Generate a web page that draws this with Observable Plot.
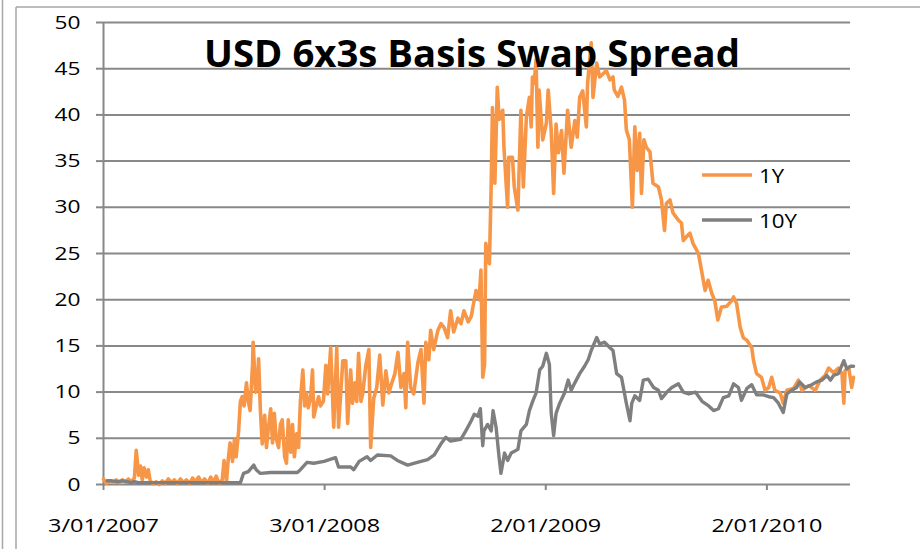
<!DOCTYPE html>
<html><head><meta charset="utf-8">
<script src="https://cdn.jsdelivr.net/npm/d3@7"></script>
<script src="https://cdn.jsdelivr.net/npm/@observablehq/plot@0.6"></script>
<style>body{margin:0;background:#fff} #chart{width:920px;height:549px}</style>
</head><body><div id="chart"></div><script>
const title = "USD 6x3s Basis Swap Spread";
const seriesNames = ["1Y", "10Y"];
const seriesColors = ["#F79646", "#7F7F7F"];
const yTicks = [0, 5, 10, 15, 20, 25, 30, 35, 40, 45, 50];
const xTickDates = ["2007-01-03", "2008-01-03", "2009-01-02", "2010-01-02"];
const xTickLabels = ["3/01/2007", "3/01/2008", "2/01/2009", "2/01/2010"];
const xDomain = ["2007-01-03", "2010-05-20"];

const oneYDates = [
"2007-01-03","2007-01-08","2007-01-14","2007-01-19","2007-01-24","2007-01-29","2007-02-03","2007-02-08","2007-02-13","2007-02-18",
"2007-02-23","2007-02-26","2007-03-02","2007-03-05","2007-03-08","2007-03-11","2007-03-15","2007-03-18","2007-03-21","2007-03-26",
"2007-03-31","2007-04-05","2007-04-10","2007-04-15","2007-04-20","2007-04-25","2007-04-30","2007-05-05","2007-05-10","2007-05-15",
"2007-05-20","2007-05-25","2007-05-30","2007-06-04","2007-06-09","2007-06-14","2007-06-19","2007-06-24","2007-06-29","2007-07-04",
"2007-07-08","2007-07-13","2007-07-18","2007-07-21","2007-07-25","2007-07-28","2007-07-31","2007-08-04","2007-08-07","2007-08-10",
"2007-08-14","2007-08-17","2007-08-20","2007-08-23","2007-08-27","2007-08-30","2007-09-02","2007-09-06","2007-09-07","2007-09-11",
"2007-09-14","2007-09-16","2007-09-19","2007-09-22","2007-09-26","2007-09-29","2007-10-02","2007-10-06","2007-10-09","2007-10-12",
"2007-10-15","2007-10-19","2007-10-22","2007-10-25","2007-10-29","2007-11-01","2007-11-04","2007-11-08","2007-11-11","2007-11-14",
"2007-11-18","2007-11-21","2007-11-24","2007-11-28","2007-12-01","2007-12-04","2007-12-07","2007-12-11","2007-12-14","2007-12-16",
"2007-12-21","2007-12-24","2007-12-27","2008-01-01","2008-01-05","2008-01-08","2008-01-13","2008-01-18","2008-01-23","2008-01-26",
"2008-02-02","2008-02-07","2008-02-10","2008-02-15","2008-02-18","2008-02-22","2008-02-25","2008-02-28","2008-03-03","2008-03-06",
"2008-03-11","2008-03-16","2008-03-19","2008-03-24","2008-03-29","2008-04-03","2008-04-08","2008-04-13","2008-04-18","2008-04-23",
"2008-04-28","2008-05-03","2008-05-08","2008-05-13","2008-05-16","2008-05-19","2008-05-24","2008-05-29","2008-06-05","2008-06-10",
"2008-06-15","2008-06-18","2008-06-23","2008-06-26","2008-07-01","2008-07-08","2008-07-13","2008-07-18","2008-07-24","2008-07-29",
"2008-08-03","2008-08-10","2008-08-15","2008-08-20","2008-08-27","2008-09-01","2008-09-06","2008-09-09","2008-09-14","2008-09-17",
"2008-09-20","2008-09-23","2008-09-25","2008-09-29","2008-10-01","2008-10-04","2008-10-06","2008-10-10","2008-10-14","2008-10-17",
"2008-10-23","2008-10-25","2008-10-31","2008-11-02","2008-11-08","2008-11-11","2008-11-17","2008-11-22","2008-11-26","2008-12-01",
"2008-12-06","2008-12-09","2008-12-11","2008-12-14","2008-12-17","2008-12-20","2008-12-22","2008-12-28","2009-01-03","2009-01-06",
"2009-01-11","2009-01-15","2009-01-19","2009-01-23","2009-01-28","2009-02-01","2009-02-07","2009-02-13","2009-02-19","2009-02-23",
"2009-02-27","2009-03-04","2009-03-10","2009-03-12","2009-03-18","2009-03-21","2009-03-27","2009-04-01","2009-04-06","2009-04-12",
"2009-04-18","2009-04-23","2009-04-25","2009-05-01","2009-05-07","2009-05-12","2009-05-15","2009-05-20","2009-05-25","2009-05-29",
"2009-06-02","2009-06-06","2009-06-09","2009-06-13","2009-06-17","2009-06-23","2009-06-28","2009-07-07","2009-07-12","2009-07-17",
"2009-07-20","2009-07-26","2009-07-31","2009-08-09","2009-08-14","2009-08-17","2009-08-22","2009-08-28","2009-09-02","2009-09-11",
"2009-09-16","2009-09-22","2009-09-27","2009-10-03","2009-10-08","2009-10-13","2009-10-19","2009-10-28","2009-11-05","2009-11-08",
"2009-11-13","2009-11-19","2009-11-24","2009-11-30","2009-12-08","2009-12-11","2009-12-16","2009-12-24","2009-12-30","2010-01-05",
"2010-01-10","2010-01-15","2010-01-24","2010-01-29","2010-02-04","2010-02-15","2010-02-23","2010-03-01","2010-03-12","2010-03-23",
"2010-03-31","2010-04-08","2010-04-14","2010-04-22","2010-04-30","2010-05-06","2010-05-09","2010-05-11","2010-05-17","2010-05-22",
"2010-05-25"
];
const oneYValues = [
0.6,0.1,0.4,0.2,0.5,0.2,0.5,0.3,0.6,0.3,
0.7,3.7,1.0,2.0,0.5,1.8,0.8,1.6,0.4,0.1,
0.3,0.0,0.4,0.1,0.6,0.2,0.5,0.1,0.6,0.2,
0.5,0.1,0.7,0.3,0.8,0.2,0.6,0.1,0.8,0.2,
0.9,0.1,0.5,2.6,0.3,2.8,4.5,2.5,4.8,3.0,
5.8,9.0,9.5,8.5,11.0,9.0,8.0,13.0,15.4,10.0,
11.0,13.6,8.0,4.4,7.5,4.0,6.0,8.2,4.5,7.7,
5.0,4.0,6.5,7.0,3.0,2.3,7.0,3.5,6.5,3.0,
5.5,4.0,9.0,12.4,8.5,9.9,8.3,9.5,12.4,7.3,
8.8,9.5,8.5,9.0,12.9,9.8,14.8,6.2,14.8,6.2,
13.4,13.4,6.6,12.4,8.8,11.0,9.0,14.2,9.0,9.9,
12.9,14.6,4.0,9.3,10.5,14.0,8.6,12.3,9.9,11.0,
12.0,14.3,10.5,12.0,8.3,15.4,10.5,9.8,13.2,14.6,
8.8,15.4,13.5,16.7,14.6,16.7,17.4,17.0,15.9,18.8,
16.5,18.0,17.4,18.8,17.6,18.2,20.0,21.0,20.0,23.2,
11.6,13.0,26.1,24.5,23.9,32.6,40.8,32.6,43.0,39.5,
40.5,36.5,30.0,35.4,35.4,32.2,29.7,40.5,32.2,39.8,
41.9,38.7,44.1,43.4,46.0,36.5,42.7,37.3,39.1,42.7,
38.3,31.5,39.0,35.9,38.3,33.7,40.5,36.5,39.4,37.6,
41.9,42.6,38.7,43.4,47.8,41.9,45.6,44.1,44.4,44.8,
43.8,44.1,42.7,42.0,43.0,41.6,38.4,37.3,30.0,38.7,
34.0,38.0,31.5,37.3,36.5,36.0,32.6,32.2,30.8,27.5,
30.4,30.8,29.4,28.6,28.3,26.4,26.8,27.2,26.1,25.0,
23.2,21.0,22.1,20.7,19.9,17.8,19.2,19.3,19.9,20.3,
19.6,17.0,15.9,15.6,14.8,13.4,12.0,11.6,10.2,10.5,
11.6,10.2,9.9,8.8,10.2,10.4,11.3,10.2,10.7,10.2,
11.3,11.8,12.6,12.1,12.6,12.0,8.8,12.3,12.7,10.5,
11.6
];

const tenYDates = [
"2007-01-09","2007-01-17","2007-01-26","2007-02-03","2007-02-11","2007-02-18","2007-02-23","2007-03-02","2007-03-21","2007-05-10",
"2007-06-29","2007-08-17","2007-08-22","2007-08-30","2007-09-08","2007-09-12","2007-09-19","2007-10-06","2007-10-28","2007-11-19",
"2007-11-24","2007-12-05","2007-12-16","2008-01-02","2008-01-21","2008-01-26","2008-02-15","2008-02-20","2008-02-29","2008-03-13",
"2008-03-19","2008-03-30","2008-04-21","2008-05-02","2008-05-19","2008-06-04","2008-06-21","2008-07-02","2008-07-13","2008-07-21",
"2008-07-29","2008-08-07","2008-08-15","2008-08-23","2008-09-01","2008-09-06","2008-09-12","2008-09-16","2008-09-20","2008-09-22",
"2008-09-28","2008-10-04","2008-10-07","2008-10-12","2008-10-17","2008-10-20","2008-10-26","2008-10-31","2008-11-06","2008-11-17",
"2008-11-22","2008-12-01","2008-12-06","2008-12-12","2008-12-17","2008-12-23","2008-12-28","2009-01-03","2009-01-08","2009-01-11",
"2009-01-15","2009-01-19","2009-01-25","2009-02-02","2009-02-08","2009-02-13","2009-02-19","2009-02-27","2009-03-07","2009-03-13",
"2009-03-18","2009-03-27","2009-04-01","2009-04-09","2009-04-18","2009-04-23","2009-04-29","2009-05-07","2009-05-15","2009-05-21",
"2009-05-24","2009-05-29","2009-06-06","2009-06-12","2009-06-20","2009-06-29","2009-07-07","2009-07-12","2009-07-21","2009-07-29",
"2009-08-09","2009-08-17","2009-08-26","2009-09-06","2009-09-17","2009-09-28","2009-10-06","2009-10-14","2009-10-22","2009-10-31",
"2009-11-08","2009-11-16","2009-11-21","2009-11-30","2009-12-08","2009-12-16","2009-12-27","2010-01-05","2010-01-13","2010-01-21",
"2010-01-29","2010-02-04","2010-02-12","2010-02-20","2010-02-25","2010-03-06","2010-03-14","2010-03-25","2010-04-03","2010-04-11",
"2010-04-17","2010-04-22","2010-04-30","2010-05-09","2010-05-14","2010-05-20","2010-05-25"
];
const tenYValues = [
0.4,0.4,0.3,0.4,0.3,0.2,0.3,0.2,0.2,0.2,
0.2,0.2,1.2,1.4,2.1,1.6,1.2,1.3,1.3,1.3,
1.6,2.4,2.3,2.5,2.9,1.9,1.9,1.6,2.5,3.0,
2.6,3.2,3.1,2.6,2.1,2.4,2.7,3.2,4.4,5.1,
4.7,4.8,4.9,5.8,6.9,7.6,7.4,8.2,4.2,5.8,
6.5,5.8,8.0,6.2,2.9,1.2,3.4,2.6,3.4,3.8,
5.8,6.5,8.0,9.1,9.9,12.4,12.8,14.2,13.0,7.7,
5.3,7.7,8.8,9.9,11.3,10.2,11.0,12.0,12.8,13.5,
14.5,15.9,15.2,15.4,14.8,14.5,12.0,11.6,8.8,6.9,
8.8,9.6,9.1,11.3,11.4,10.5,10.2,9.3,10.0,10.5,
10.9,10.0,9.8,10.0,9.0,8.5,8.0,8.2,9.4,9.6,
10.9,10.5,9.1,10.4,10.8,9.7,9.7,9.5,9.4,8.8,
7.8,9.8,10.2,10.5,11.1,10.5,10.7,11.1,11.3,11.8,
11.3,11.8,12.0,13.4,12.5,12.8,12.8
];

const parse = d3.utcParse("%Y-%m-%d");
const oneY = oneYDates.map((d, i) => ({date: parse(d), value: oneYValues[i]}));
const tenY = tenYDates.map((d, i) => ({date: parse(d), value: tenYValues[i]}));
const xTicks = xTickDates.map(parse);
const labelMap = new Map(xTicks.map((d, i) => [+d, xTickLabels[i]]));
const gridColor = "#888888";

const chart = Plot.plot({
  width: 920, height: 549,
  marginLeft: 103, marginRight: 70, marginTop: 22, marginBottom: 65,
  style: {fontFamily: "'Open Sans', sans-serif", fontSize: "19px", color: "#000", background: "#fff", overflow: "visible"},
  x: {type: "utc", domain: xDomain.map(parse)},
  y: {domain: [0, 50]},
  marks: [
    Plot.gridY(yTicks, {stroke: gridColor, strokeOpacity: 1, strokeWidth: 2}),
    Plot.axisY(yTicks, {tickSize: 7, tickPadding: 16, stroke: gridColor, strokeWidth: 2, label: null, tickFormat: d => String(d)}),
    Plot.axisX(xTicks, {tickSize: 6, tickPadding: 28, stroke: gridColor, strokeWidth: 2, label: null, tickFormat: d => labelMap.get(+d)}),
    Plot.ruleX([xTicks[0]], {stroke: gridColor, strokeWidth: 2}),
    Plot.lineY(oneY, {x: "date", y: "value", stroke: seriesColors[0], strokeWidth: 3.6, strokeLinejoin: "round"}),
    Plot.lineY(tenY, {x: "date", y: "value", stroke: seriesColors[1], strokeWidth: 3.4, strokeLinejoin: "round"})
  ]
});
document.getElementById("chart").appendChild(chart);

const svg = d3.select(chart);
// stretch tick labels to the reference's wide lettering
svg.selectAll("text").each(function() {
  const t = this.textContent;
  if (xTickLabels.includes(t)) d3.select(this).attr("textLength", 111).attr("lengthAdjust", "spacingAndGlyphs");
  else if (/^\d+$/.test(t)) d3.select(this).attr("textLength", t.length * 13).attr("lengthAdjust", "spacingAndGlyphs");
});
// outer chart-area borders
const border = "#a6a6a6";
svg.append("line").attr("x1", 2.5).attr("x2", 2.5).attr("y1", 0).attr("y2", 549).attr("stroke", border).attr("stroke-width", 1.5);
svg.append("line").attr("x1", 16).attr("x2", 16).attr("y1", 7).attr("y2", 549).attr("stroke", border).attr("stroke-width", 1.5);
svg.append("line").attr("x1", 16).attr("x2", 920).attr("y1", 7).attr("y2", 7).attr("stroke", border).attr("stroke-width", 1.5);
// title
svg.append("text").attr("x", 472).attr("y", 67).attr("text-anchor", "middle")
  .attr("textLength", 536).attr("lengthAdjust", "spacingAndGlyphs")
  .style("font", "bold 37px 'Open Sans', sans-serif").attr("fill", "#000").text(title);
// legend
const legendY = [175, 220];
const legendW = [25, 38];
seriesNames.forEach((name, i) => {
  svg.append("line").attr("x1", 702).attr("x2", 752).attr("y1", legendY[i]).attr("y2", legendY[i])
    .attr("stroke", seriesColors[i]).attr("stroke-width", 3.5);
  svg.append("text").attr("x", 759).attr("y", legendY[i] + 8).attr("text-anchor", "start")
    .attr("textLength", legendW[i]).attr("lengthAdjust", "spacingAndGlyphs")
    .style("font", "20px 'Open Sans', sans-serif").attr("fill", "#000").text(name);
});
</script></body></html>
